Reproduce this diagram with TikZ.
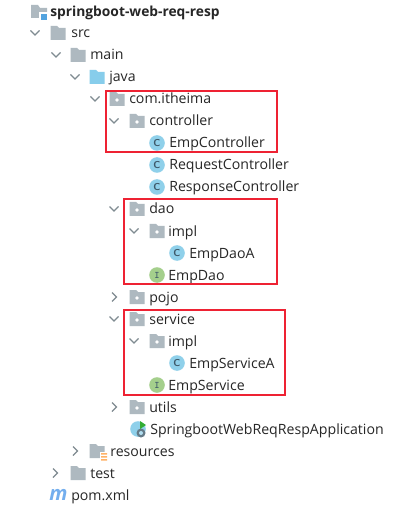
\documentclass[tikz,border=0pt]{standalone}
\usepackage{fontspec}
\setmainfont{Open Sans}
\definecolor{fold}{HTML}{AEB9C0}
\definecolor{blu}{HTML}{87CDEB}
\definecolor{cico}{HTML}{8FD0EA}
\definecolor{gico}{HTML}{A4CF8C}
\definecolor{dk}{HTML}{3F5A6A}
\definecolor{chev}{HTML}{7F8B91}
\definecolor{redb}{HTML}{EE2233}
\tikzset{
 lab/.style={anchor=base west,inner sep=0pt,font=\fontsize{10.6pt}{12pt}\selectfont,text=black!85},
 chevline/.style={draw=chev,line width=.9pt,line join=miter},
 redbox/.style={draw=redb,line width=1.3pt},
 icoletter/.style={inner sep=0pt,font=\bfseries\fontsize{7.5pt}{8pt}\selectfont,text=dk}
}
\newcommand{\fld}[3][fold]{\fill[#1] (#2-7.5,#3-7) -- (#2-1,#3-7) -- (#2+1,#3-5) -- (#2+7.5,#3-5) -- (#2+7.5,#3+7) -- (#2-7.5,#3+7) -- cycle;}
\newcommand{\pkg}[2]{\fld{#1}{#2}\fill[white] (#1,#2+1) circle (1.8);}
\newcommand{\down}[2]{\draw[chevline] (#1-4.5,#2-2.5) -- (#1,#2+2) -- (#1+4.5,#2-2.5);}
\newcommand{\rgt}[2]{\draw[chevline] (#1-2,#2-4.5) -- (#1+2.5,#2) -- (#1-2,#2+4.5);}
\newcommand{\cls}[3]{\fill[#3] (#1,#2) circle (7.8);\node[icoletter] at (#1,#2) {\sffamily C};}
\newcommand{\ifc}[2]{\fill[gico] (#1,#2) circle (7.8);\node[icoletter] at (#1,#2) {\ttfamily I};}
\begin{document}
\begin{tikzpicture}[x=.75pt,y=-.75pt]
\useasboundingbox (0,0) rectangle (405,509);
\fill[white] (0,0) rectangle (405,509);
% row 1
\fill[fold] (31,5) -- (38,5) -- (40,8) -- (47,8) -- (47,18) -- (31,18) -- cycle;
\fill[white] (39,12) rectangle (49,22);
\fill[cyan!70!blue!70] (41,14) rectangle (47,20);
\node[lab,font=\bfseries\fontsize{10.35pt}{12pt}\selectfont] (n1) at (50,16.5) {springboot-web-req-resp};
\down{35}{33}\fld{58}{33}\node[lab] (n2) at (71,38) {src};
\down{56}{55}\fld{78}{55}\node[lab] (n3) at (90,60) {main};
\down{75}{77}\fld[blu]{97}{77}\node[lab] (n4) at (109,82) {java};
\down{95}{99}\pkg{117}{99}\node[lab] (n5) at (129,104) {com.itheima};
\down{114}{121}\pkg{137}{121}\node[lab] (n6) at (149,126) {controller};
\cls{157}{143}{cico}\node[lab] (n7) at (169,148) {EmpController};
\cls{157}{165}{cico}\node[lab] (n8) at (169,170) {RequestController};
\cls{157}{187}{cico}\node[lab] (n9) at (169,192) {ResponseController};
\down{114}{209}\pkg{137}{209}\node[lab] (n10) at (149,214) {dao};
\down{134}{231}\pkg{157}{231}\node[lab] (n11) at (168,236) {impl};
\cls{177}{253}{cico}\node[lab] (n12) at (189,258) {EmpDaoA};
\ifc{157}{275}\node[lab] (n13) at (168,280) {EmpDao};
\rgt{114}{297}\pkg{137}{297}\node[lab] (n14) at (149,302) {pojo};
\down{114}{319}\pkg{137}{319}\node[lab] (n15) at (149,324) {service};
\down{134}{341}\pkg{157}{341}\node[lab] (n16) at (168,346) {impl};
\cls{177}{363}{cico}\node[lab] (n17) at (189,368) {EmpServiceA};
\ifc{157}{385}\node[lab] (n18) at (168,390) {EmpService};
\rgt{114}{407}\pkg{137}{407}\node[lab] (n19) at (149,412) {utils};
\fill[cico] (138,429) circle (7.8);
\fill[dk!80] (141,433) circle (4.5);
\fill[cico!70] (141,433) circle (2);
\fill[green!60!black!80] (140,421) -- (146,425) -- (140,429) -- cycle;
\node[lab] (n20) at (150,434) {SpringbootWebReqRespApplication};
\rgt{75}{451}\fld{97}{451}
\fill[white] (100,452) rectangle (108,462);
\fill[orange!60] (101,453) rectangle (107,454.5) (101,456) rectangle (107,457.5) (101,459) rectangle (107,460.5);
\node[lab] (n21) at (110,456) {resources};
\rgt{55}{473}\fld{78}{473}\node[lab] (n22) at (90,478) {test};
\node[lab,font=\bfseries\itshape\fontsize{15pt}{15pt}\selectfont,text=blu!85!blue] (mm) at (49,500) {m};
\node[lab] (n23) at (71,500) {pom.xml};
\draw[redbox] (106,91) rectangle (277,152);
\draw[redbox] (124,199) rectangle (277,284);
\draw[redbox] (124,310) rectangle (285,395);
\end{tikzpicture}
\end{document}
